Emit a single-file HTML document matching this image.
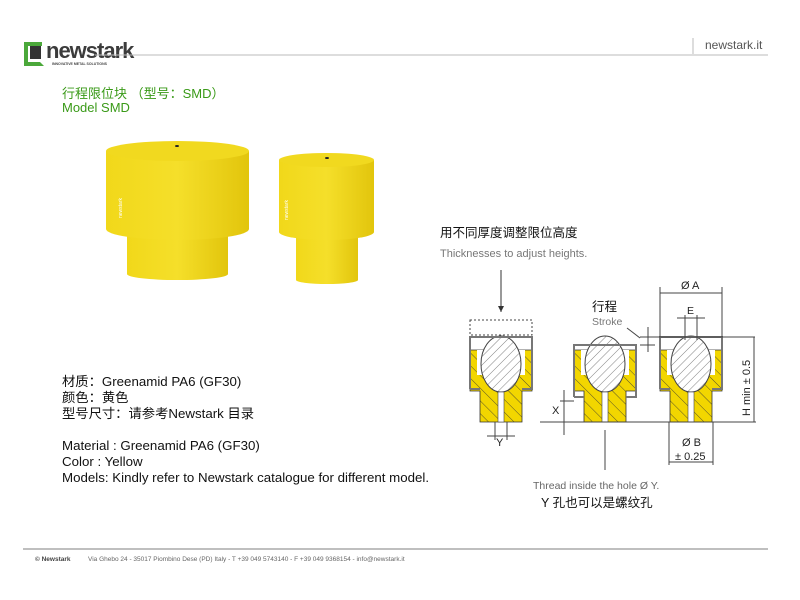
<!DOCTYPE html>
<html><head><meta charset="utf-8"><style>
body{margin:0;width:800px;height:600px;background:#fff;position:relative;overflow:hidden;font-family:"Liberation Sans","Noto Sans CJK SC",sans-serif}
.t{position:absolute;white-space:nowrap}
</style></head><body>
<svg width="800" height="600" style="position:absolute;left:0;top:0" font-family="Liberation Sans, Noto Sans CJK SC, sans-serif">
<defs>
<pattern id="h" width="6" height="6" patternUnits="userSpaceOnUse" patternTransform="rotate(45)"><rect width="6" height="6" fill="#fff"/><line x1="0" y1="0" x2="0" y2="6" stroke="#666" stroke-width="0.8"/></pattern>
<pattern id="y" width="9" height="9" patternUnits="userSpaceOnUse" patternTransform="rotate(-45)"><rect width="9" height="9" fill="#f2d600"/><line x1="0" y1="0" x2="0" y2="9" stroke="#333" stroke-width="0.8"/></pattern>
<linearGradient id="g" x1="0" x2="1"><stop offset="0" stop-color="#f1d81a"/><stop offset="0.5" stop-color="#f5df2a"/><stop offset="1" stop-color="#e2c50c"/></linearGradient>
<g id="house"><path d="M-31,-31 v-52 h62 v52 h-10" fill="none" stroke="#777" stroke-width="2"/><path d="M-31,-31 h10" stroke="#777" stroke-width="2"/></g>
<g id="body">
<path d="M-31,-72 h62 v41 h-10 v31 h-42 v-31 h-10 z" fill="url(#y)" stroke="#333" stroke-width="0.8"/>
<path d="M-24,-72 v25 h48 v-25 z" fill="#fff"/>
<ellipse cx="0" cy="-58" rx="20" ry="28" fill="url(#h)" stroke="#444"/>
<rect x="-3" y="-30" width="6" height="30" fill="#fff" stroke="#444" stroke-width="0.6"/>
</g>
</defs>
<!-- logo -->
<path d="M24,42 h18 v4 h-14 v16 h12 l4,4 h-20 z" fill="#4ba83a"/>
<rect x="30" y="46" width="11" height="13" fill="#333"/>
<text x="46" y="58" font-size="22" font-weight="bold" fill="#3c3c3c" letter-spacing="-1">newstark</text>
<text x="52" y="65" font-size="3.5" font-weight="bold" fill="#444">INNOVATIVE METAL SOLUTIONS</text>
<line x1="95" y1="55" x2="768" y2="55" stroke="#bbb" stroke-width="1"/>
<line x1="693" y1="38" x2="693" y2="54" stroke="#bbb"/>
<!-- products -->
<path d="M127,228 h101 v46 a50,6 0 0 1 -101,0 z" fill="url(#g)"/>
<path d="M106,151 h143 v78 a71.5,11 0 0 1 -143,0 z" fill="url(#g)"/>
<ellipse cx="177.5" cy="151" rx="71.5" ry="10" fill="#f1d91f"/>
<ellipse cx="177" cy="146" rx="2" ry="1" fill="#222"/>
<path d="M296,230 h62 v50 a31,4 0 0 1 -62,0 z" fill="url(#g)"/>
<path d="M279,160 h95 v72 a47.5,8 0 0 1 -95,0 z" fill="url(#g)"/>
<ellipse cx="326.5" cy="160" rx="47.5" ry="7" fill="#f1d91f"/>
<ellipse cx="327" cy="158" rx="2" ry="1" fill="#222"/>
<text x="0" y="0" font-size="5" fill="#fff" transform="translate(122,218) rotate(-90)">newstark</text>
<text x="0" y="0" font-size="5" fill="#fff" transform="translate(288,220) rotate(-90)">newstark</text>
<!-- diagram -->
<text x="440" y="237" font-size="12.5" fill="#111">用不同厚度调整限位高度</text>
<text x="440" y="257" font-size="11" fill="#777">Thicknesses to adjust heights.</text>
<line x1="501" y1="270" x2="501" y2="312" stroke="#333"/><path d="M498,306 l3,6 l3,-6z" fill="#333"/>
<rect x="470" y="320" width="62" height="15" fill="none" stroke="#444" stroke-dasharray="2,2"/>
<use href="#body" x="501" y="422"/><use href="#house" x="501" y="420"/>
<use href="#body" x="605" y="422"/><use href="#house" x="605" y="428"/>
<use href="#body" x="691" y="422"/><use href="#house" x="691" y="420"/>
<line x1="540" y1="422" x2="756" y2="422" stroke="#444"/>
<line x1="495" y1="422" x2="495" y2="440" stroke="#444"/><line x1="507" y1="422" x2="507" y2="440" stroke="#444"/>
<line x1="487" y1="436" x2="515" y2="436" stroke="#444"/>
<text x="496" y="446" font-size="11" fill="#222">Y</text>
<line x1="564" y1="390" x2="564" y2="435" stroke="#444"/><line x1="560" y1="401" x2="574" y2="401" stroke="#444"/>
<text x="552" y="414" font-size="11" fill="#222">X</text>
<line x1="605" y1="430" x2="605" y2="470" stroke="#444"/>
<text x="592" y="311" font-size="12.5" fill="#111">行程</text>
<text x="592" y="325" font-size="10.5" fill="#777">Stroke</text>
<line x1="627" y1="328" x2="640" y2="338" stroke="#444"/>
<line x1="648" y1="327" x2="648" y2="352" stroke="#444"/>
<line x1="640" y1="337" x2="755" y2="337" stroke="#444"/><line x1="640" y1="345" x2="655" y2="345" stroke="#444"/>
<line x1="660" y1="287" x2="660" y2="337" stroke="#444"/><line x1="722" y1="287" x2="722" y2="337" stroke="#444"/>
<line x1="660" y1="293" x2="722" y2="293" stroke="#444"/>
<text x="681" y="289" font-size="11" fill="#222">Ø A</text>
<line x1="685" y1="315" x2="685" y2="340" stroke="#444"/><line x1="697" y1="315" x2="697" y2="340" stroke="#444"/>
<line x1="677" y1="318" x2="705" y2="318" stroke="#444"/>
<text x="687" y="314" font-size="10.5" fill="#222">E</text>
<line x1="754" y1="337" x2="754" y2="422" stroke="#444"/>
<text x="0" y="0" font-size="11" fill="#222" transform="translate(750,416) rotate(-90)">H min ± 0.5</text>
<line x1="669" y1="422" x2="669" y2="465" stroke="#444"/><line x1="713" y1="422" x2="713" y2="465" stroke="#444"/>
<line x1="669" y1="462" x2="713" y2="462" stroke="#444"/>
<text x="682" y="446" font-size="11" fill="#222">Ø B</text>
<text x="675" y="460" font-size="11" fill="#222">± 0.25</text>
<text x="533" y="489" font-size="10.5" fill="#666">Thread inside the hole Ø Y.</text>
<text x="541" y="507" font-size="12.5" fill="#111">Y 孔也可以是螺纹孔</text>
<!-- footer -->
<line x1="23" y1="549" x2="768" y2="549" stroke="#aaa" stroke-width="1.5"/>
<text x="35" y="561" font-size="6.5" font-weight="bold" fill="#444">© Newstark</text>
<text x="88" y="561" font-size="6.5" fill="#666">Via Ghebo 24 - 35017 Piombino Dese (PD) Italy - T +39 049 5743140 - F +39 049 9368154 - info@newstark.it</text>
</svg>
<div class="t" style="left:705px;top:38px;font-size:12px;color:#555">newstark.it</div>
<div class="t" style="left:62px;top:87px;font-size:13px;color:#3a9a18;line-height:14px">行程限位块 （型号：SMD）<br>Model SMD</div>
<div class="t" style="left:62px;top:374px;font-size:13.3px;color:#111;line-height:16px">材质：Greenamid PA6 (GF30)<br>颜色：黄色<br>型号尺寸：请参考Newstark 目录<br><br>Material : Greenamid PA6 (GF30)<br>Color : Yellow<br>Models: Kindly refer to Newstark catalogue for different model.</div>
</body></html>
